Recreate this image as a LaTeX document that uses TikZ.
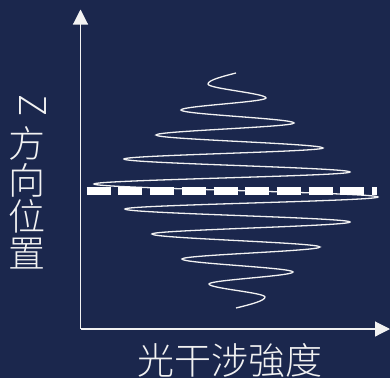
\documentclass[tikz,border=0pt]{standalone}
\usepackage{fontspec}
\usepackage{graphicx}
\usetikzlibrary{arrows.meta}
\IfFontExistsTF{Noto Sans CJK TC Light}
  {\newfontfamily\cjk{Noto Sans CJK TC Light}}
  {\newfontfamily\cjk{Noto Sans CJK TC}}
\definecolor{bgnavy}{HTML}{1B274D}
\definecolor{fg}{HTML}{F2F2F2}
\tikzset{
  axis/.style={draw=fg, line width=1.1pt, -{Triangle[length=15pt,width=15pt]}},
  wave/.style={draw=fg, line width=1.3pt},
  marker/.style={draw=white, line width=7.5pt, dash pattern=on 24pt off 7.7pt},
  lab/.style={text=fg, font=\cjk\fontsize{37}{36.6}\selectfont, inner sep=0pt, align=center},
}
\begin{document}
\begin{tikzpicture}[x=1pt,y=-1pt]
\fill[bgnavy] (0,0) rectangle (390,378);
\useasboundingbox (0,0) rectangle (390,378);
\coordinate (O) at (80.5,329);
\coordinate (ytop) at (80.5,9.5);
\coordinate (xend) at (390,329);
% wave
\coordinate (p0) at (236,73);
\coordinate (p1) at (208,84);
\coordinate (p2) at (266,98);
\coordinate (p3) at (181,110);
\coordinate (p4) at (294,123);
\coordinate (p5) at (156,135);
\coordinate (p6) at (323,148);
\coordinate (p7) at (124,159);
\coordinate (p8) at (350,172);
\coordinate (p9) at (94,184);
\coordinate (p10) at (378,197);
\coordinate (p11) at (125,209);
\coordinate (p12) at (350,222);
\coordinate (p13) at (152,234);
\coordinate (p14) at (320,247);
\coordinate (p15) at (182,259);
\coordinate (p16) at (293,272);
\coordinate (p17) at (209,284);
\coordinate (p18) at (265,297);
\coordinate (p19) at (236,308);
\draw[wave] (p0)
  .. controls (221.3,76.7) and (208,80.3) .. (p1)
  .. controls +(0,4.67) and +(0,-4.67) .. (p2)
  .. controls +(0,4) and +(0,-4) .. (p3)
  .. controls +(0,4.33) and +(0,-4.33) .. (p4)
  .. controls +(0,4) and +(0,-4) .. (p5)
  .. controls +(0,4.33) and +(0,-4.33) .. (p6)
  .. controls +(0,3.67) and +(0,-3.67) .. (p7)
  .. controls +(0,4.33) and +(0,-4.33) .. (p8)
  .. controls +(0,4) and +(0,-4) .. (p9)
  .. controls +(0,4.33) and +(0,-4.33) .. (p10)
  .. controls +(0,4) and +(0,-4) .. (p11)
  .. controls +(0,4.33) and +(0,-4.33) .. (p12)
  .. controls +(0,4) and +(0,-4) .. (p13)
  .. controls +(0,4.33) and +(0,-4.33) .. (p14)
  .. controls +(0,4) and +(0,-4) .. (p15)
  .. controls +(0,4.33) and +(0,-4.33) .. (p16)
  .. controls +(0,4) and +(0,-4) .. (p17)
  .. controls +(0,4.33) and +(0,-4.33) .. (p18)
  .. controls (265,300.67) and (251.2,304.33) .. (p19);
% dashed marker line
\coordinate (m1) at (86.7,191);
\coordinate (m2) at (377,191);
\draw[marker] (m1) -- (m2);
% axes
\draw[axis] (O) -- (ytop);
\draw[axis] (O) -- (xend);
% labels
\node[lab] (xlab) at (230,360) {光干涉強度};
\node[lab] (zlab) at (32.5,106) {\rotatebox{-90}{Z}};
\node[lab] (ylab) at (27,198) {方\\向\\位\\置};
\end{tikzpicture}
\end{document}
